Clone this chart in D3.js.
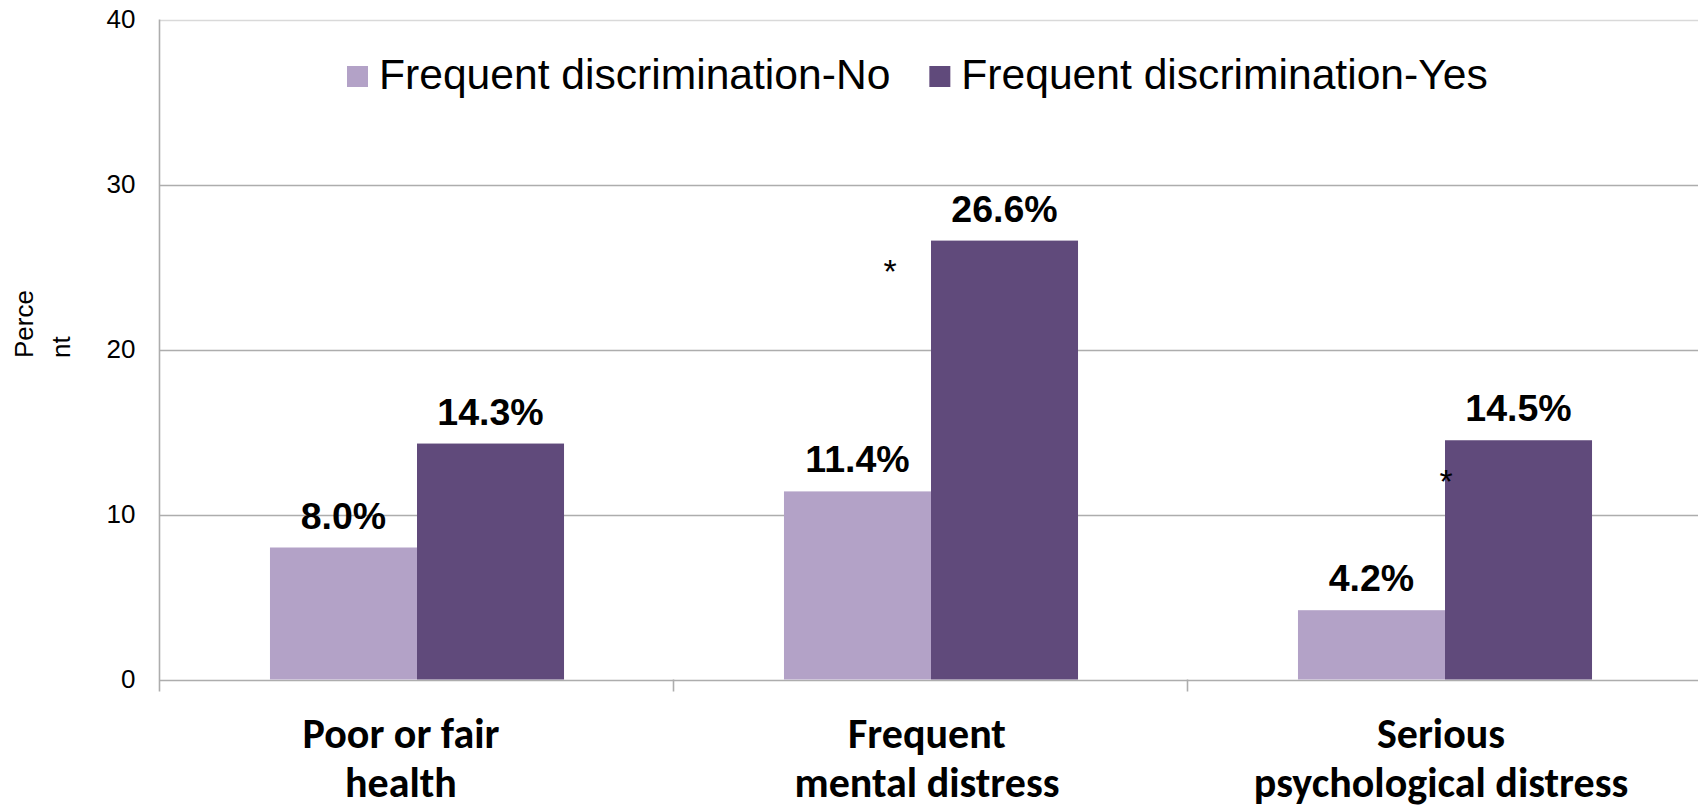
<!DOCTYPE html>
<html>
<head>
<meta charset="utf-8">
<script src="https://cdn.jsdelivr.net/npm/d3@7"></script>
<style>
  html, body { margin: 0; padding: 0; background: #fff; }
  svg { display: block; }
</style>
</head>
<body>
<svg id="chart" width="1698" height="807"></svg>
<script>
// ---- Data ----
const categories = ["Poor or fair health", "Frequent mental distress", "Serious psychological distress"];
const categoryLines = [["Poor or fair", "health"], ["Frequent", "mental distress"], ["Serious", "psychological distress"]];
const seriesNames = ["Frequent discrimination-No", "Frequent discrimination-Yes"];
const valuesNo  = [8.0, 11.4, 4.2];
const valuesYes = [14.3, 26.6, 14.5];
const yTicks = [0, 10, 20, 30, 40];
const starCategories = ["Frequent mental distress", "Serious psychological distress"];
const starValues = [25.2, 12.5];
const colors = ["#B3A2C7", "#604A7B"];

(function () {
// ---- Layout ----
const svg = d3.select("#chart");
const pLeft = 160, pRight = 1702, pTop = 19.5, pBottom = 679.5;

const x = d3.scaleBand().domain(categories).range([pLeft, pRight]).paddingInner(0).paddingOuter(0);
const x1 = d3.scaleBand().domain(seriesNames).range([0, x.bandwidth()]).paddingInner(0).paddingOuter(0.748);
const y = d3.scaleLinear().domain([0, 40]).range([pBottom, pTop]);
const color = d3.scaleOrdinal().domain(seriesNames).range(colors);

// gridlines
svg.append("g").selectAll("line").data(yTicks.filter(t => t > 0)).join("line")
  .attr("x1", pLeft).attr("x2", 1698)
  .attr("y1", d => Math.round(y(d)) + 0.5).attr("y2", d => Math.round(y(d)) + 0.5)
  .attr("stroke", d => d === 40 ? "#D9D9D9" : "#ADADAD").attr("stroke-width", 1.6);

// y axis
const yAxis = d3.axisLeft(y).tickValues(yTicks).tickSize(0).tickPadding(24);
const gy = svg.append("g").attr("transform", `translate(${pLeft - 0.5},0)`).call(yAxis);
gy.select(".domain").remove();
gy.selectAll("text").attr("font-family", "Liberation Sans, Arial, sans-serif").attr("font-size", 26).attr("fill", "#000");
svg.append("line").attr("x1", pLeft - 0.5).attr("x2", pLeft - 0.5).attr("y1", pTop).attr("y2", pBottom + 12)
  .attr("stroke", "#ADADAD").attr("stroke-width", 1.6);

// x axis
const xAxis = d3.axisBottom(x).tickValues([]).tickSize(0);
const gx = svg.append("g").attr("transform", `translate(0,${Math.round(pBottom) + 0.5})`).call(xAxis);
gx.select(".domain").remove();
svg.append("line").attr("x1", pLeft).attr("x2", 1698).attr("y1", Math.round(pBottom) + 0.5).attr("y2", Math.round(pBottom) + 0.5)
  .attr("stroke", "#ADADAD").attr("stroke-width", 1.6);
svg.append("g").selectAll("line").data(categories.slice(1)).join("line")
  .attr("x1", d => x(d) - 0.5).attr("x2", d => x(d) - 0.5)
  .attr("y1", pBottom).attr("y2", pBottom + 12)
  .attr("stroke", "#ADADAD").attr("stroke-width", 1.6);

// bars
const rows = categories.map((c, i) => ({ cat: c, vals: [valuesNo[i], valuesYes[i]] }));
const groups = svg.append("g").selectAll("g").data(rows).join("g")
  .attr("transform", d => `translate(${x(d.cat)},0)`);
const cells = groups.selectAll("g").data(d => d.vals.map((v, j) => ({ s: seriesNames[j], v }))).join("g");
cells.append("rect")
  .attr("x", d => x1(d.s)).attr("width", x1.bandwidth())
  .attr("y", d => y(d.v)).attr("height", d => y(0) - y(d.v))
  .attr("fill", d => color(d.s));
cells.append("text")
  .attr("x", d => x1(d.s) + x1.bandwidth() / 2)
  .attr("y", d => y(d.v) - 19)
  .attr("text-anchor", "middle")
  .attr("font-family", "Liberation Sans, Arial, sans-serif").attr("font-weight", "bold").attr("font-size", 37.5)
  .attr("fill", "#000")
  .text(d => d.v.toFixed(1) + "%");

// significance stars
const starDx = [-41, 1];
svg.append("g").selectAll("text").data(starCategories).join("text")
  .attr("x", (d, i) => x(d) + x.bandwidth() / 2 + starDx[i])
  .attr("y", (d, i) => y(starValues[i]) + 19.5)
  .attr("text-anchor", "middle")
  .attr("font-family", "Liberation Sans, Arial, sans-serif").attr("font-size", 34)
  .text("*");

// category labels
const catG = svg.append("g").selectAll("text").data(categories).join("text")
  .attr("text-anchor", "middle")
  .attr("font-family", "Carlito, Lato, sans-serif").attr("font-weight", "bold").attr("font-size", 42)
  .attr("fill", "#000");
catG.each(function(d, i) {
  const cx = x(d) + x.bandwidth() / 2 - (i === 0 ? 16 : 4);
  d3.select(this).selectAll("tspan").data(categoryLines[i]).join("tspan")
    .attr("x", cx).attr("y", (t, k) => 748 + k * 49).text(t => t);
});

// y axis title
svg.append("text")
  .attr("transform", "translate(33,358) rotate(-90)")
  .attr("font-family", "Liberation Sans, Arial, sans-serif").attr("font-size", 26)
  .selectAll("tspan").data(["Perce", "nt"]).join("tspan")
  .attr("x", 0).attr("dy", (t, k) => k === 0 ? 0 : 37).text(t => t);

// legend
const legend = svg.append("g");
let lx = 347;
seriesNames.forEach((s, i) => {
  legend.append("rect").attr("x", lx).attr("y", 66).attr("width", 21).attr("height", 21).attr("fill", color(s));
  const t = legend.append("text").attr("x", lx + 32).attr("y", 89)
    .attr("font-family", "Liberation Sans, Arial, sans-serif").attr("font-size", 42.6)
    .attr("fill", "#000").text(s);
  lx = lx + 32 + t.node().getComputedTextLength() + 39;
});
})();
</script>
</body>
</html>
